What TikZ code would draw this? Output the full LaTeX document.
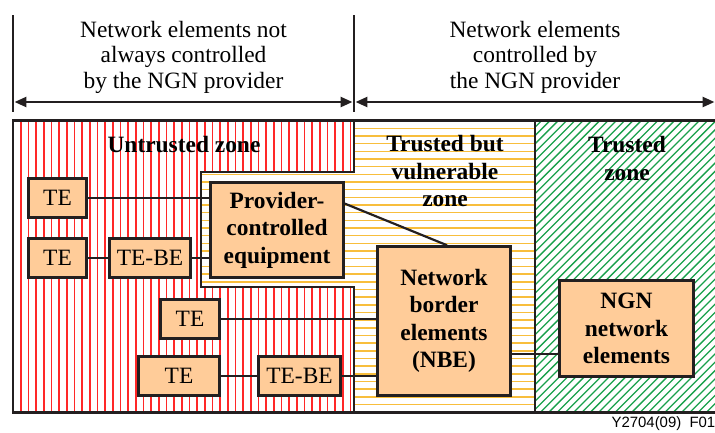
\documentclass[tikz,border=0pt]{standalone}
\usepackage{fontspec}
\setmainfont{Liberation Serif}
\newfontfamily\footfont{Liberation Sans}
\usetikzlibrary{arrows.meta,calc}
\definecolor{peach}{RGB}{255,204,153}
\definecolor{hatchred}{RGB}{255,40,40}
\definecolor{hatchorange}{RGB}{248,190,60}
\definecolor{hatchgreen}{RGB}{25,160,75}
\definecolor{edge}{RGB}{35,31,32}
\tikzset{
  elem/.style={draw=edge, fill=peach, line width=2.6pt, inner sep=0pt, align=center,
    font=\fontsize{23.5}{27.5}\selectfont},
  belem/.style={elem, font=\fontsize{23.5}{27.5}\selectfont\bfseries},
  conn/.style={draw=edge, line width=2.2pt},
  zoneline/.style={draw=edge, line width=2.6pt},
  bar/.style={draw=edge, line width=3pt},
  span/.style={draw=edge, line width=2.5pt, {Triangle[length=12pt,width=10pt]}-{Triangle[length=12pt,width=10pt]}},
  headtext/.style={align=center, inner sep=0pt, font=\fontsize{23.5}{25.5}\selectfont},
  zonetext/.style={inner sep=0pt, align=center, font=\fontsize{23.5}{27.5}\selectfont\bfseries},
}
\begin{document}
\begin{tikzpicture}[x=1bp,y=-1bp]
\useasboundingbox (0,0) rectangle (715,432);
% ---------- hatching ----------
\begin{scope}
  \clip (13,120) -- (354,120) -- (354,172) -- (201,172) -- (201,287) -- (354,287) -- (354,412) -- (13,412) -- cycle;
  \foreach \i in {0,...,44}{
    \pgfmathsetmacro\hx{20.7+7.67*\i}
    \draw[hatchred, line width=1.6bp] (\hx,118) -- (\hx,414);
  }
\end{scope}
\begin{scope}
  \clip (201,172) -- (354,172) -- (354,120) -- (535,120) -- (535,412) -- (354,412) -- (354,287) -- (201,287) -- cycle;
  \foreach \i in {0,...,37}{
    \pgfmathsetmacro\hy{128.3+7.67*\i}
    \draw[hatchorange, line width=1.6bp] (199,\hy) -- (537,\hy);
  }
\end{scope}
\begin{scope}
  \clip (535,120) rectangle (716,412);
  \foreach \i in {0,...,58}{
    \draw[hatchgreen, line width=1.3bp] ({240+8.3*\i},414) -- ({240+8.3*\i+294},120);
  }
\end{scope}
% ---------- zone borders ----------
\draw[zoneline, line width=3pt] (13,120) rectangle (717,412);
\draw[zoneline] (354,120) -- (354,172) -- (201,172) -- (201,287) -- (354,287) -- (354,412);
\draw[zoneline] (535,120) -- (535,412);
% ---------- header ----------
\coordinate (bl1) at (13,15);  \coordinate (bl2) at (13,112);
\coordinate (bm1) at (354,15); \coordinate (bm2) at (354,112);
\coordinate (al) at (14.5,102); \coordinate (am1) at (352.5,102);
\coordinate (am2) at (355.5,102); \coordinate (ar) at (714.5,102);
\draw[bar] (bl1) -- (bl2);
\draw[bar] (bm1) -- (bm2);
\draw[span] (al) -- (am1);
\draw[span] (am2) -- (ar);
\node[headtext] (hleft) at (183.5,57) {Network elements not\\always controlled\\by the NGN provider};
\node[headtext] (hright) at (535,57) {Network elements\\controlled by\\the NGN provider};
% ---------- zone labels ----------
\node[zonetext] (zu) at (184,145) {Untrusted zone};
\node[zonetext] (zv) at (445,171) {Trusted but\\vulnerable\\zone};
\node[zonetext] (zt) at (627,158.5) {Trusted\\zone};
% ---------- elements ----------
\node[elem, minimum width=58.5pt, minimum height=39.5pt] (te1) at (57.5,198) {TE};
\node[elem, minimum width=58.5pt, minimum height=39.5pt] (te2) at (57.5,258) {TE};
\node[elem, minimum width=81.5pt, minimum height=39.5pt] (tebe1) at (150,258) {TE-BE};
\node[belem, minimum width=133.5pt, minimum height=95.5pt] (prov) at (277,230) {Provider-\\controlled\\equipment};
\node[elem, minimum width=59.5pt, minimum height=39.5pt] (te3) at (190,319) {TE};
\node[elem, minimum width=81.5pt, minimum height=39.5pt] (te4) at (179,376) {TE};
\node[elem, minimum width=82.5pt, minimum height=39.5pt] (tebe2) at (299.5,376) {TE-BE};
\node[belem, minimum width=133.5pt, minimum height=149.5pt] (nbe) at (444,321) {Network\\border\\elements\\(NBE)};
\node[belem, minimum width=134.5pt, minimum height=96.5pt] (ngn) at (626.5,328.5) {NGN\\network\\elements};
% ---------- connectors ----------
\coordinate (p1) at ($(prov.north east)!0.23!(prov.south east)$);
\coordinate (n1) at ([xshift=3pt]nbe.north);
\coordinate (c1) at ([yshift=-33pt]nbe.east);
\draw[conn] (te1.east) -- (te1.east -| prov.west);
\draw[conn] (te2) -- (tebe1);
\draw[conn] (tebe1.east) -- (tebe1.east -| prov.west);
\draw[conn] (p1) -- (n1);
\draw[conn] (te3.east) -- (te3.east -| nbe.west);
\draw[conn] (te4) -- (tebe2);
\draw[conn] (tebe2.east) -- (tebe2.east -| nbe.west);
\draw[conn] (c1) -- (c1 -| ngn.west);
% ---------- footer ----------
\node[anchor=east, inner sep=0pt, font=\footfont\fontsize{15}{15}\selectfont] (foot) at (715.5,424) {Y2704(09)\hspace{0.55em}F01};
\end{tikzpicture}
\end{document}
